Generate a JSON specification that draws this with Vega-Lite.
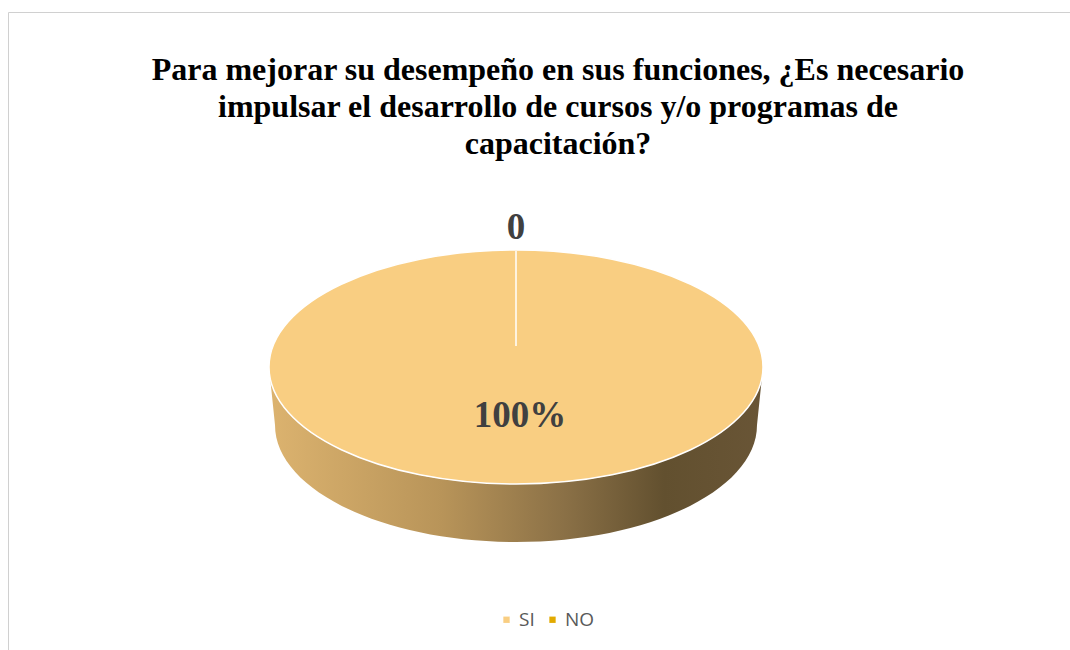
{
  "$schema": "https://vega.github.io/schema/vega-lite/v6.json",
  "width": 1062,
  "height": 640,
  "autosize": {"type": "none"},
  "padding": {"left": 8, "top": 12, "right": 0, "bottom": 0},
  "background": "white",
  "view": {"stroke": "#D0D0D0", "strokeWidth": 1},
  "title": {
    "text": ["Para mejorar su desempeño en sus funciones, ¿Es necesario", "impulsar el desarrollo de cursos y/o programas de", "capacitación?"],
    "font": "Liberation Serif",
    "fontSize": 32,
    "fontWeight": "bold",
    "color": "#000000",
    "lineHeight": 37,
    "anchor": "middle",
    "frame": "group",
    "offset": -149,
    "dx": 19,
    "baseline": "top"
  },
  "data": {
    "values": [
      {"respuesta": "SI", "valor": 100, "etiqueta": "100%"},
      {"respuesta": "NO", "valor": 0, "etiqueta": "0"}
    ]
  },
  "config": {"view": {"stroke": "#D0D0D0", "strokeWidth": 1}},
  "layer": [
    {
      "transform": [{"filter": "datum.valor > 0"}],
      "mark": {
        "type": "point",
        "shape": "M-247,0A247,117,0,0,0,247,0L241,58A241,117,0,0,1,-241,58Z",
        "size": 4,
        "filled": true,
        "opacity": 1,
        "strokeWidth": 0,
        "xOffset": -23,
        "yOffset": 35,
        "fill": {
          "gradient": "linear",
          "x1": 0, "y1": 0, "x2": 1, "y2": 0,
          "stops": [
            {"offset": 0, "color": "#DCB36F"},
            {"offset": 0.35, "color": "#B89459"},
            {"offset": 0.6, "color": "#8A7046"},
            {"offset": 0.8, "color": "#62502F"},
            {"offset": 1, "color": "#695536"}
          ]
        }
      },
      "encoding": {}
    },
    {
      "transform": [{"filter": "datum.valor > 0"}],
      "mark": {
        "type": "point",
        "shape": "M-247,0A247,117,0,1,0,247,0A247,117,0,1,0,-247,0Z",
        "size": 4,
        "filled": true,
        "opacity": 1,
        "stroke": "#FFFFFF",
        "strokeWidth": 1.5,
        "xOffset": -23,
        "yOffset": 35
      },
      "encoding": {
        "color": {
          "field": "respuesta",
          "type": "nominal",
          "scale": {"domain": ["SI", "NO"], "range": ["#F9CE82", "#E2AA00"]},
          "legend": {
            "orient": "none",
            "legendX": 489,
            "legendY": 598,
            "direction": "horizontal",
            "symbolType": "square",
            "symbolSize": 40,
            "symbolStrokeWidth": 0,
            "labelFont": "Open Sans",
            "labelFontSize": 19,
            "labelColor": "#595959",
            "labelOffset": 3,
            "columnPadding": 8,
            "title": null
          }
        }
      }
    },
    {
      "transform": [{"filter": "datum.valor == 0"}],
      "mark": {
        "type": "point",
        "shape": "M0,-116L0,-21",
        "size": 4,
        "filled": false,
        "opacity": 1,
        "stroke": "#FFFFFF",
        "strokeWidth": 1.5,
        "xOffset": -23,
        "yOffset": 35
      },
      "encoding": {}
    },
    {
      "transform": [{"filter": "datum.respuesta == 'SI'"}],
      "mark": {
        "type": "text",
        "font": "Liberation Serif",
        "fontSize": 37,
        "fontWeight": "bold",
        "color": "#404040",
        "baseline": "alphabetic",
        "align": "center",
        "xOffset": -19,
        "yOffset": 95
      },
      "encoding": {"text": {"field": "etiqueta"}}
    },
    {
      "transform": [{"filter": "datum.respuesta == 'NO'"}],
      "mark": {
        "type": "text",
        "font": "Liberation Serif",
        "fontSize": 37,
        "fontWeight": "bold",
        "color": "#404040",
        "baseline": "alphabetic",
        "align": "center",
        "xOffset": -23,
        "yOffset": -93
      },
      "encoding": {"text": {"field": "etiqueta"}}
    }
  ]
}
